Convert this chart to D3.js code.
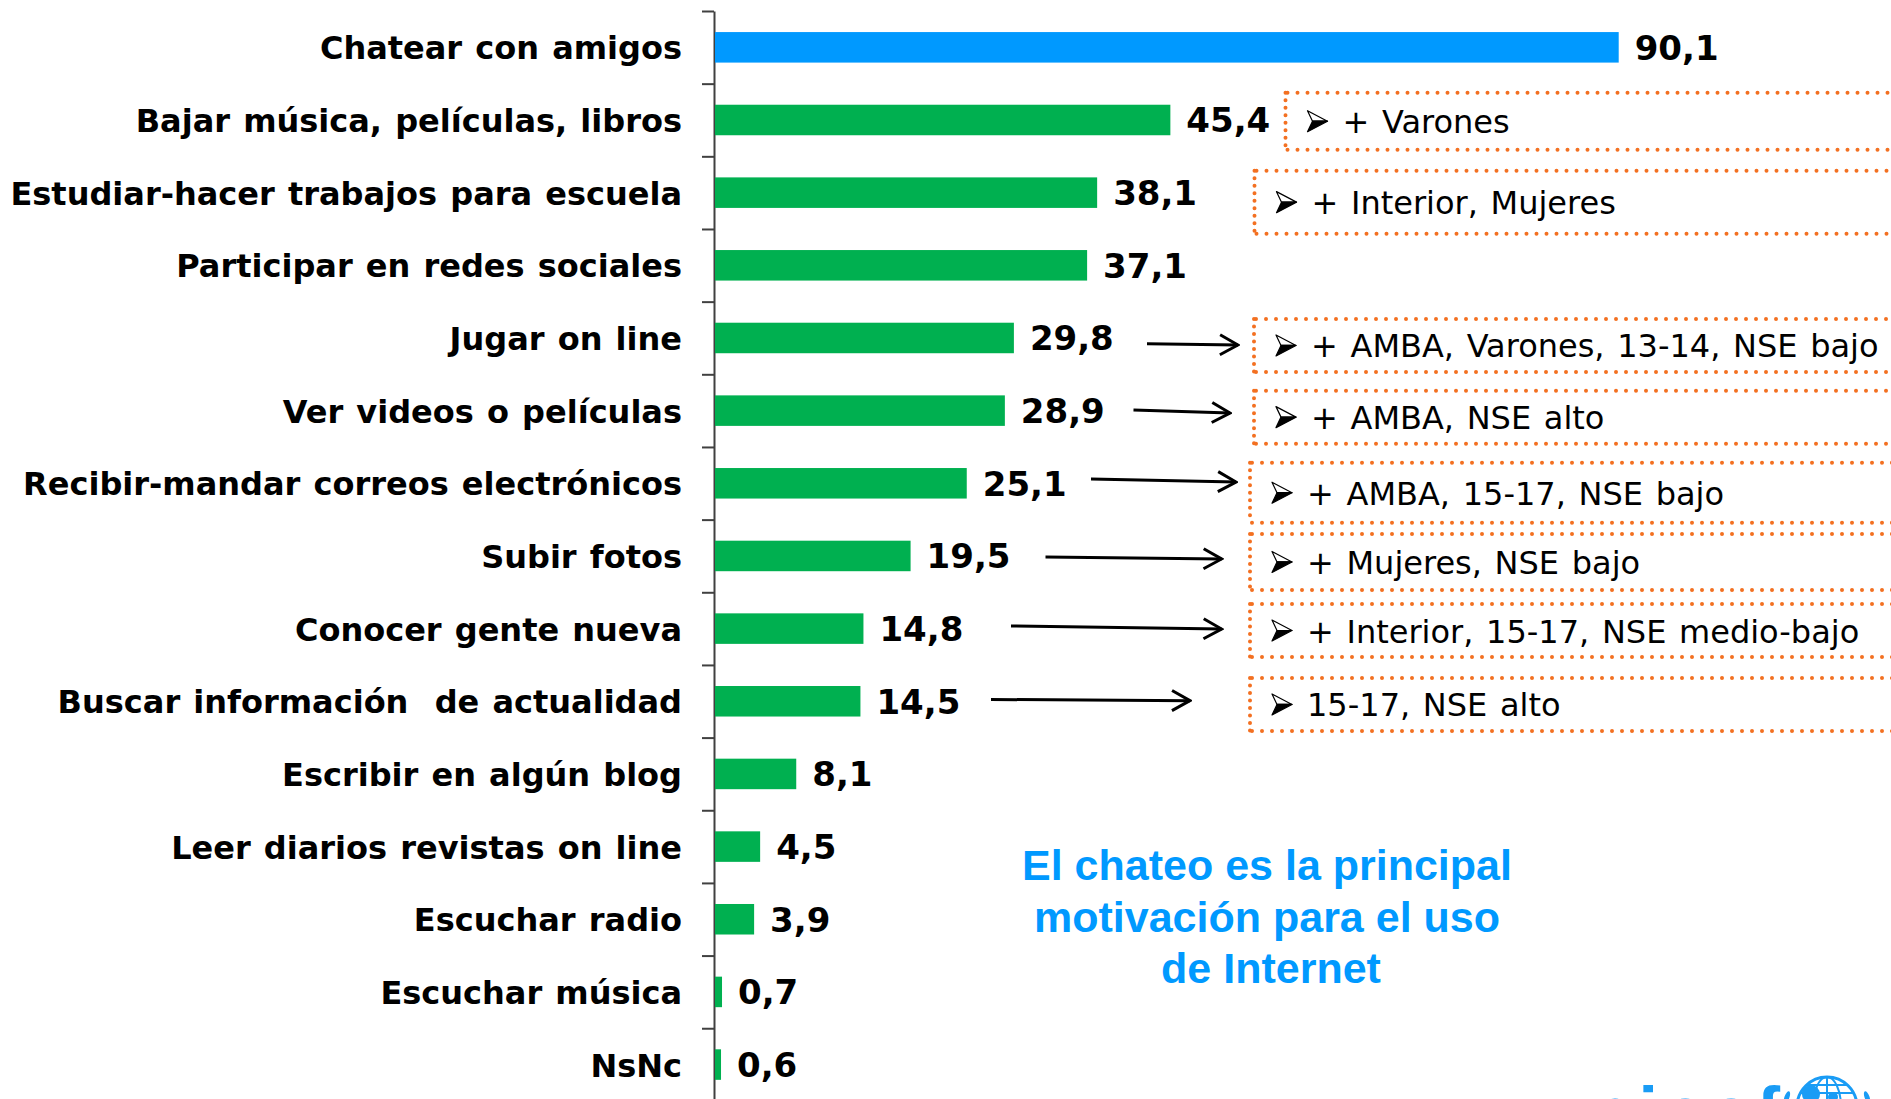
<!DOCTYPE html>
<html>
<head>
<meta charset="utf-8">
<script src="https://cdn.jsdelivr.net/npm/d3@7"></script>
<style>
  html, body { margin: 0; padding: 0; background: #fff; overflow: hidden; }
  svg { display: block; }
</style>
</head>
<body>
<svg id="chart"></svg>
<script>
// Motivos de uso de Internet - barras horizontales

const categories = [
  'Chatear con amigos',
  'Bajar música, películas, libros',
  'Estudiar-hacer trabajos para escuela',
  'Participar en redes sociales',
  'Jugar on line',
  'Ver videos o películas',
  'Recibir-mandar correos electrónicos',
  'Subir fotos',
  'Conocer gente nueva',
  'Buscar información  de actualidad',
  'Escribir en algún blog',
  'Leer diarios revistas on line',
  'Escuchar radio',
  'Escuchar música',
  'NsNc'
];
const values = [90.1, 45.4, 38.1, 37.1, 29.8, 28.9, 25.1, 19.5, 14.8, 14.5, 8.1, 4.5, 3.9, 0.7, 0.6];

const annotCategories = [
  'Bajar música, películas, libros',
  'Estudiar-hacer trabajos para escuela',
  'Jugar on line',
  'Ver videos o películas',
  'Recibir-mandar correos electrónicos',
  'Subir fotos',
  'Conocer gente nueva',
  'Buscar información  de actualidad'
];
const annotTexts = [
  '+ Varones',
  '+ Interior, Mujeres',
  '+ AMBA, Varones, 13-14, NSE bajo',
  '+ AMBA, NSE alto',
  '+ AMBA, 15-17, NSE bajo',
  '+ Mujeres, NSE bajo',
  '+ Interior, 15-17, NSE medio-bajo',
  '15-17, NSE alto'
];
const arrowCategories = [
  'Jugar on line',
  'Ver videos o películas',
  'Recibir-mandar correos electrónicos',
  'Subir fotos',
  'Conocer gente nueva',
  'Buscar información  de actualidad'
];
const calloutLines = ['El chateo es la principal', 'motivación para el uso', 'de Internet'];

const width = 1891, height = 1099;
const axisX = 715, axisTop = 11, step = 72.66;
const blue = '#0099ff', green = '#00b050', orange = '#f37021';

const svg = d3.select('#chart').attr('width', width).attr('height', height);

const x = d3.scaleLinear().domain([0, 100]).range([axisX, axisX + 1003]);
const y = d3.scaleBand()
  .domain(categories)
  .range([axisTop, axisTop + step * categories.length])
  .paddingInner(0.58)
  .paddingOuter(0.29);
const yEdge = d3.scaleLinear().domain([0, categories.length]).range([axisTop, axisTop + step * categories.length]);
const center = c => y(c) + y.bandwidth() / 2;

const fmt = d3.formatLocale({ decimal: ',', thousands: '.', grouping: [3], currency: ['', ''] }).format('.1f');

const data = categories.map((c, i) => ({ name: c, value: values[i] }));

// axis with ticks between categories
svg.append('g')
  .attr('transform', `translate(${axisX - 1},0)`)
  .call(d3.axisLeft(yEdge).tickValues(d3.range(categories.length + 1)).tickSize(12).tickSizeOuter(0).tickFormat(''))
  .call(g => g.selectAll('path, line').attr('stroke', '#404040').attr('stroke-width', 2));

// bars
svg.append('g').selectAll('rect')
  .data(data)
  .enter()
  .append('rect')
  .attr('x', x(0))
  .attr('y', d => y(d.name))
  .attr('width', d => x(d.value) - x(0))
  .attr('height', y.bandwidth())
  .attr('fill', (d, i) => i === 0 ? blue : green);

// category labels
svg.append('g').selectAll('text')
  .data(data)
  .enter()
  .append('text')
  .attr('x', 682)
  .attr('y', d => center(d.name) + 12)
  .attr('text-anchor', 'end')
  .style('white-space', 'pre')
  .style('word-spacing', '2px')
  .style('font-family', '"DejaVu Sans", Verdana, sans-serif')
  .style('font-weight', 'bold')
  .style('font-size', '32px')
  .style('fill', '#000')
  .text(d => d.name);

// value labels
svg.append('g').selectAll('text')
  .data(data)
  .enter()
  .append('text')
  .attr('x', d => x(d.value) + 16)
  .attr('y', d => center(d.name) + 12.5)
  .style('font-family', '"DejaVu Sans", Verdana, sans-serif')
  .style('font-weight', 'bold')
  .style('font-size', '34px')
  .style('fill', '#000')
  .text(d => fmt(d.value));

// annotation boxes (offset from the bar centre, height, left edge)
const boxLayout = [
  { dy: -27.3, h: 57, left: 1285.5 },
  { dy: -22, h: 63, left: 1254.5 },
  { dy: -19, h: 53, left: 1254 },
  { dy: -20, h: 53, left: 1254 },
  { dy: -20.6, h: 60, left: 1250 },
  { dy: -22, h: 56, left: 1250 },
  { dy: -24.6, h: 53, left: 1250 },
  { dy: -23.3, h: 53, left: 1250 }
];

const boxes = svg.append('g').selectAll('g')
  .data(annotTexts.map((t, i) => ({ text: t, cat: annotCategories[i], ...boxLayout[i] })))
  .enter()
  .append('g')
  .attr('transform', d => `translate(${d.left},${center(d.cat) + d.dy})`);

const dotted = (sel, spacing) => sel
  .attr('stroke', orange)
  .attr('stroke-width', 4)
  .attr('stroke-linecap', 'round')
  .attr('stroke-dasharray', `0 ${spacing}`);

boxes.append('line').attr('x1', 2).attr('x2', 700).attr('y1', 0).attr('y2', 0).call(dotted, 10);
boxes.append('line').attr('x1', 2).attr('x2', 700).attr('y1', d => d.h).attr('y2', d => d.h).call(dotted, 10);
boxes.append('line').attr('x1', 0).attr('x2', 0).attr('y1', 0).attr('y2', d => d.h).call(dotted, 7.5);

// bullet arrowhead
const bullet = boxes.append('g').attr('transform', d => `translate(22,${d.h / 2})`);
bullet.append('path')
  .attr('d', 'M0,-10.5 L20,0 L5,0 Z')
  .attr('fill', '#fff').attr('stroke', '#000').attr('stroke-width', 1.2).attr('stroke-linejoin', 'round');
bullet.append('path')
  .attr('d', 'M5,0 L20,0 L0,10.5 Z')
  .attr('fill', '#000').attr('stroke', '#000').attr('stroke-width', 1.2).attr('stroke-linejoin', 'round');

boxes.append('text')
  .attr('x', 57)
  .attr('y', d => d.h / 2 + 12)
  .style('word-spacing', '2.5px')
  .style('font-family', '"DejaVu Sans", Verdana, sans-serif')
  .style('font-size', '32px')
  .style('fill', '#000')
  .text(d => d.text);

// arrows from value labels to boxes
svg.append('defs').append('marker')
  .attr('id', 'head')
  .attr('viewBox', '-22 -12 24 24')
  .attr('refX', 0).attr('refY', 0)
  .attr('markerWidth', 24).attr('markerHeight', 24)
  .attr('markerUnits', 'userSpaceOnUse')
  .attr('orient', 'auto')
  .append('path')
  .attr('d', 'M-18,-10 L0,0 L-18,10')
  .attr('fill', 'none').attr('stroke', '#000').attr('stroke-width', 3);

const arrowLayout = [
  { x1: 1147, dy1: 5.7, x2: 1238, dy2: 7 },
  { x1: 1133.5, dy1: -0.6, x2: 1230, dy2: 2.4 },
  { x1: 1091, dy1: -4.3, x2: 1236, dy2: -1.3 },
  { x1: 1045.5, dy1: 1, x2: 1221.6, dy2: 3 },
  { x1: 1011, dy1: -2.6, x2: 1221.6, dy2: 0.4 },
  { x1: 991, dy1: -1.8, x2: 1190, dy2: -0.6 }
];

svg.append('g').selectAll('line')
  .data(arrowCategories.map((c, i) => ({ cat: c, ...arrowLayout[i] })))
  .enter()
  .append('line')
  .attr('x1', d => d.x1)
  .attr('y1', d => center(d.cat) + d.dy1)
  .attr('x2', d => d.x2)
  .attr('y2', d => center(d.cat) + d.dy2)
  .attr('stroke', '#000')
  .attr('stroke-width', 3)
  .attr('marker-end', 'url(#head)');

// callout text
svg.append('g').selectAll('text')
  .data(calloutLines)
  .enter()
  .append('text')
  .attr('x', (d, i) => i === 2 ? 1271 : 1267)
  .attr('y', (d, i) => 880 + i * 51.7)
  .attr('text-anchor', 'middle')
  .style('font-family', '"Liberation Sans", Arial, sans-serif')
  .style('font-weight', 'bold')
  .style('font-size', '43px')
  .style('fill', blue)
  .text(d => d);

// unicef logo, cut at the bottom edge
const logo = svg.append('g').style('fill', '#1a9cf5');
logo.append('text')
  .attr('x', 1539)
  .attr('y', 1136)
  .style('font-family', '"Liberation Sans", Arial, sans-serif')
  .style('font-weight', 'bold')
  .style('font-size', '70px')
  .style('letter-spacing', '7px')
  .text('unicef');
const globe = logo.append('g').attr('transform', 'translate(1827,1107)');
globe.append('circle').attr('r', 30).attr('fill', 'none').attr('stroke', '#1a9cf5').attr('stroke-width', 3);
globe.append('ellipse').attr('rx', 14).attr('ry', 30).attr('fill', 'none').attr('stroke', '#1a9cf5').attr('stroke-width', 2);
globe.append('line').attr('x1', 0).attr('x2', 0).attr('y1', -30).attr('y2', 30).attr('stroke', '#1a9cf5').attr('stroke-width', 2);
[-22, -14].forEach(v => {
  const hw = Math.sqrt(900 - v * v);
  globe.append('line').attr('x1', -hw).attr('x2', hw).attr('y1', v).attr('y2', v).attr('stroke', '#1a9cf5').attr('stroke-width', 2);
});
globe.append('circle').attr('cx', -16).attr('cy', -13).attr('r', 9);
globe.append('circle').attr('cx', 6).attr('cy', -10).attr('r', 5);
[[-40, -10], [-38, -2], [38, -2], [40, -10]].forEach(p => {
  globe.append('ellipse').attr('cx', p[0]).attr('cy', p[1]).attr('rx', 2.5).attr('ry', 6)
    .attr('transform', `rotate(${p[0] < 0 ? 20 : -20},${p[0]},${p[1]})`);
});
</script>
</body>
</html>
